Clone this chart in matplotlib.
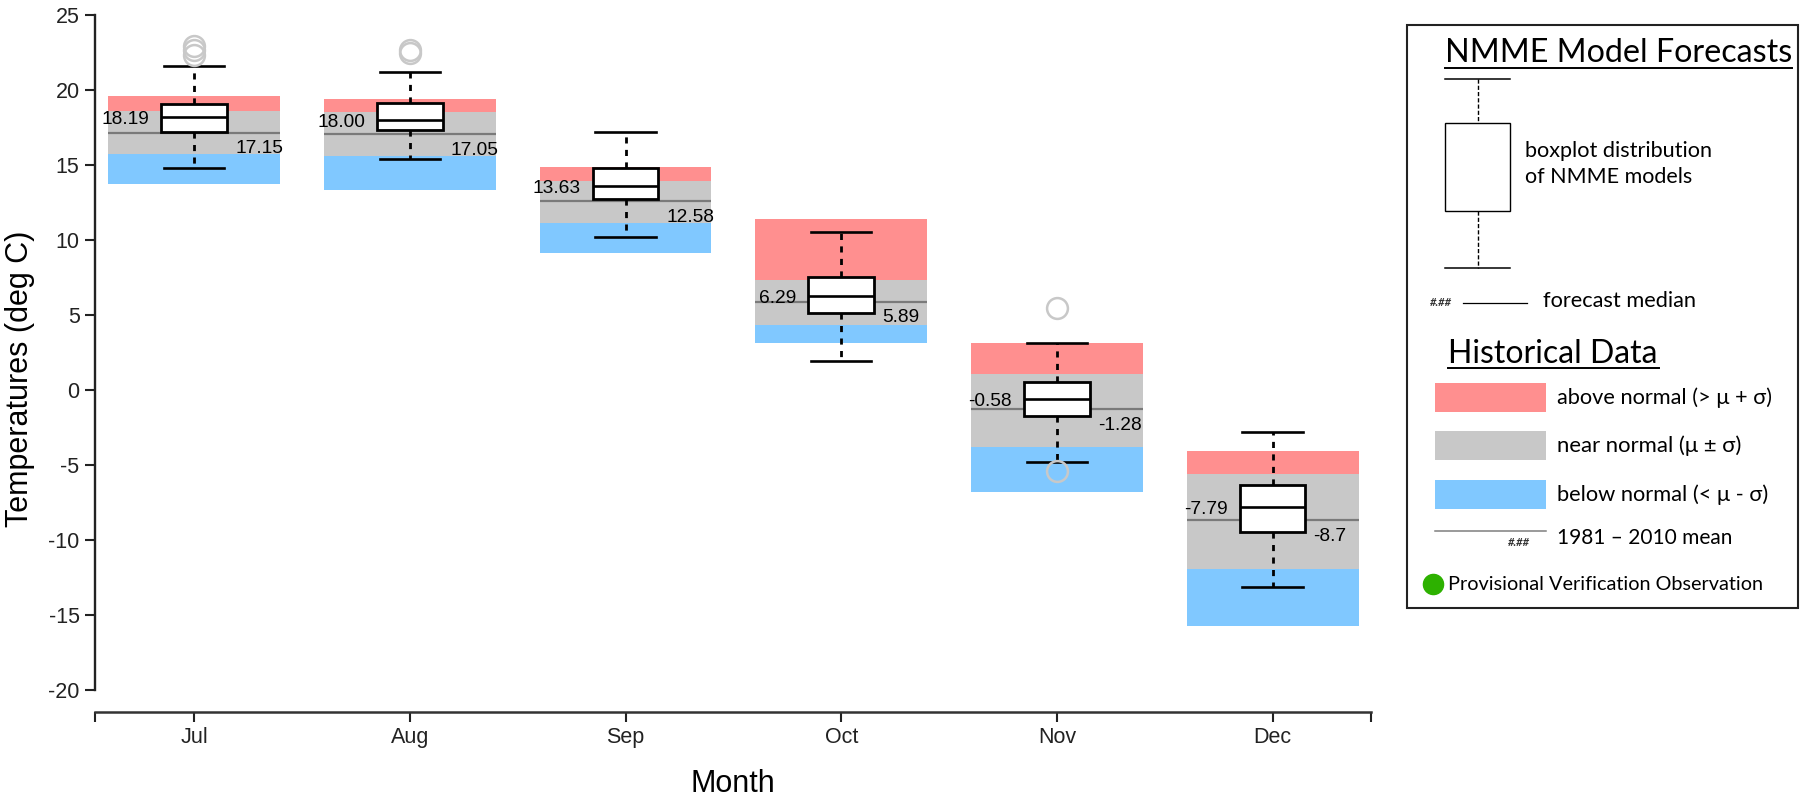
import matplotlib
matplotlib.use('Agg')
import matplotlib.pyplot as plt
from matplotlib.patches import Rectangle
import numpy as np

plt.rcParams['font.family'] = ['Liberation Sans', 'DejaVu Sans']
plt.rcParams['axes.unicode_minus'] = False

months = ['Jul', 'Aug', 'Sep', 'Oct', 'Nov', 'Dec']

# NMME model forecast distribution
fc_median = [18.19, 18.00, 13.63, 6.29, -0.58, -7.79]
fc_q1 = [17.22, 17.33, 12.71, 5.15, -1.71, -9.49]
fc_q3 = [19.07, 19.13, 14.82, 7.51, 0.56, -6.31]
fc_low = [14.80, 15.40, 10.18, 1.95, -4.82, -13.11]
fc_high = [21.62, 21.20, 17.20, 10.51, 3.16, -2.82]
fc_outliers = [[22.95, 22.65, 22.35], [22.65, 22.45], [], [], [5.44, -5.38], []]

# 1981-2010 historical data
hist_mean = [17.15, 17.05, 12.58, 5.89, -1.28, -8.7]
hist_max = [19.58, 19.40, 14.85, 11.38, 3.16, -4.04]
hist_upper = [18.58, 18.51, 13.93, 7.33, 1.04, -5.60]
hist_lower = [15.71, 15.62, 11.16, 4.33, -3.78, -11.96]
hist_min = [13.71, 13.31, 9.11, 3.11, -6.80, -15.71]

RED = '#ff8f8f'
GRAY = '#c8c8c8'
BLUE = '#80c8ff'

W, H = 1801, 796
fig = plt.figure(figsize=(W / 100, H / 100), dpi=100)
ax = fig.add_axes([95 / W, 1 - 711.7 / H, 1275.7 / W, 696.7 / H])

x = np.arange(len(months))
bw = 0.797
ax.bar(x, np.subtract(hist_lower, hist_min), bottom=hist_min, width=bw,
       color=BLUE, linewidth=0, zorder=1)
ax.bar(x, np.subtract(hist_upper, hist_lower), bottom=hist_lower, width=bw,
       color=GRAY, linewidth=0, zorder=1)
ax.bar(x, np.subtract(hist_max, hist_upper), bottom=hist_upper, width=bw,
       color=RED, linewidth=0, zorder=1)
ax.hlines(hist_mean, x - bw / 2, x + bw / 2, color='#7a7a7a', lw=1.6, zorder=2)

stats = []
for i in range(len(months)):
    stats.append({'med': fc_median[i], 'q1': fc_q1[i], 'q3': fc_q3[i],
                  'whislo': fc_low[i], 'whishi': fc_high[i],
                  'fliers': fc_outliers[i]})
boxw = 0.305
ax.bxp(stats, positions=x, widths=boxw, capwidths=0.28, patch_artist=True,
       manage_ticks=False, zorder=3,
       boxprops=dict(facecolor='white', edgecolor='black', linewidth=2.0),
       whiskerprops=dict(color='black', linewidth=2.0, linestyle=(0, (2.2, 2.3))),
       capprops=dict(color='black', linewidth=1.9),
       medianprops=dict(color='black', linewidth=1.9),
       flierprops=dict(marker='o', markerfacecolor='none', markeredgecolor=GRAY,
                       markersize=15, markeredgewidth=1.8))

for i in range(len(months)):
    ax.text(x[i] - boxw / 2 - 0.055, fc_median[i] - 0.47, '%.2f' % fc_median[i],
            ha='right', va='baseline', fontsize=13.8, zorder=4)
    ax.text(x[i] + boxw / 2 + 0.037, hist_mean[i] - 1.37, '%g' % hist_mean[i],
            ha='left', va='baseline', fontsize=13.8, zorder=4)

ax.set_xlim(-0.46, 5.455)
ax.set_ylim(-21.45, 25)
ax.set_yticks(np.arange(-20, 26, 5))
ax.set_xticks(x)
ax.set_xticklabels(months)
ax.set_xticks([-0.46, 5.455], minor=True)
for s in ['top', 'right']:
    ax.spines[s].set_visible(False)
ax.spines['left'].set_bounds(-20, 25)
ax.spines['left'].set_linewidth(1.7)
ax.spines['bottom'].set_linewidth(1.8)
ax.spines['left'].set_color('#222222')
ax.spines['bottom'].set_color('#333333')
ax.tick_params(axis='both', which='both', direction='out', length=7.5, width=1.5,
               labelsize=15.5, colors='#222222')
ax.tick_params(axis='y', pad=3.6)
ax.tick_params(axis='x', pad=3.5)
ax.set_ylabel('Temperatures (deg C)', fontsize=22, va='center')
ax.yaxis.set_label_coords((20 - 95) / 1275.7, (711.7 - 378.5) / 696.7)
ax.set_xlabel('Month', fontsize=22, va='baseline')
ax.xaxis.set_label_coords((733 - 95) / 1275.7, (711.7 - 791.7) / 696.7)

# legend panel, drawn in pixel coordinates
lax = fig.add_axes([0, 0, 1, 1], zorder=5)
lax.set_xlim(0, W)
lax.set_ylim(H, 0)
lax.axis('off')
LF = ['Lato', 'DejaVu Sans']
renderer = fig.canvas.get_renderer()


def fit(t, width):
    bb = t.get_window_extent(renderer)
    t.set_fontsize(t.get_fontsize() * width / bb.width)
    return t


lax.add_patch(Rectangle((1407, 25), 391, 583, fill=False, edgecolor='#222222', lw=1.5))

fit(lax.text(1445, 62, 'NMME Model Forecasts', family=LF, fontsize=22, va='baseline'), 345)
lax.plot([1445, 1792], [67.7, 67.7], color='black', lw=1.4)

lax.plot([1445, 1510], [79, 79], color='black', lw=1.1)
lax.plot([1478, 1478], [79, 123], color='black', lw=1.0, ls=(0, (3, 1.5)))
lax.add_patch(Rectangle((1445, 123), 65, 88, fill=False, edgecolor='black', lw=1.0))
lax.plot([1478, 1478], [211, 268], color='black', lw=1.0, ls=(0, (3, 1.5)))
lax.plot([1445, 1510], [268, 268], color='black', lw=1.1)
fit(lax.text(1525, 157, 'boxplot distribution', family=LF, fontsize=14, va='baseline'), 188)
fit(lax.text(1525, 183.3, 'of NMME models', family=LF, fontsize=14, va='baseline'), 167)

lax.text(1430, 303, '#.##', family=LF, fontsize=8, weight='bold', style='italic',
         va='center', color='#333333')
lax.plot([1463, 1527], [303, 303], color='black', lw=0.9)
fit(lax.text(1543, 306.7, 'forecast median', family=LF, fontsize=14, va='baseline'), 154)

fit(lax.text(1448, 362.7, 'Historical Data', family=LF, fontsize=20, va='baseline'), 210)
lax.plot([1448, 1659], [368, 368], color='black', lw=1.4)

items = [(RED, 383, 'above normal (> μ + σ)', 216),
         (GRAY, 431, 'near normal (μ ± σ)', 185),
         (BLUE, 480, 'below normal (< μ - σ)', 213)]
for col, top, label, tw in items:
    lax.add_patch(Rectangle((1435, top), 111, 28.5, color=col, lw=0))
    fit(lax.text(1557, top + 14.5, label, family=LF, fontsize=14, va='center'), tw)

lax.plot([1435, 1546], [530.7, 530.7], color='#7f7f7f', lw=1.1)
lax.text(1508, 543, '#.##', family=LF, fontsize=8, weight='bold', style='italic',
         va='center', color='#333333')
fit(lax.text(1557, 538, '1981 – 2010 mean', family=LF, fontsize=14, va='center'), 176)

lax.plot([1433], [584], marker='o', markersize=14.5, color='#2db100', mec='#2db100')
fit(lax.text(1448, 585, 'Provisional Verification Observation', family=LF, fontsize=12,
             va='center'), 315)

fig.savefig('out.png', dpi=100)
